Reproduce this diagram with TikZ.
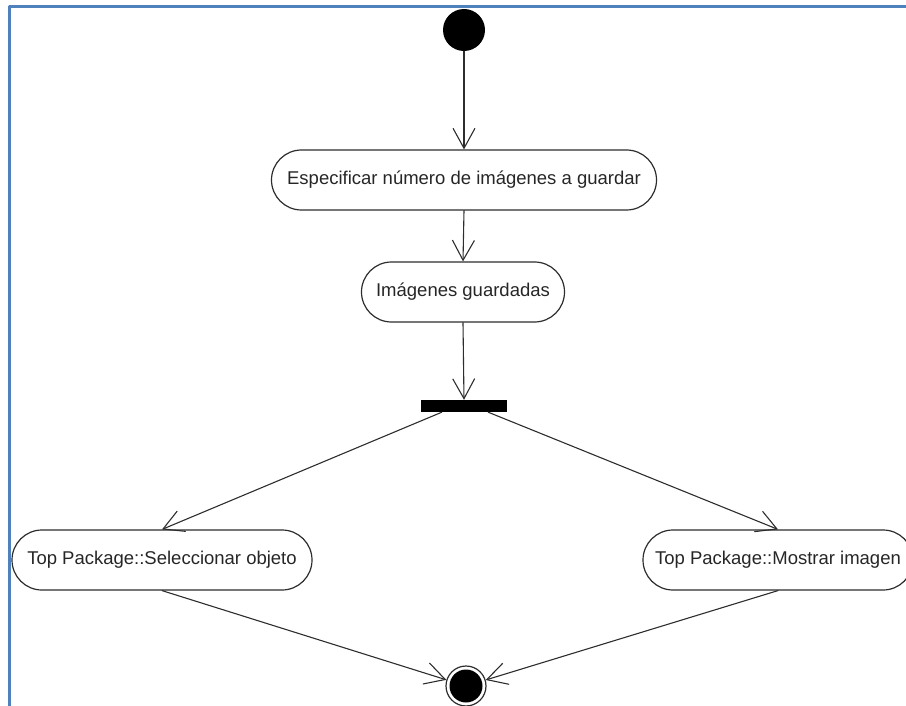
\documentclass[tikz,border=0pt]{standalone}
\usepackage{fontspec}
\setmainfont{Liberation Sans}
\usetikzlibrary{arrows.meta,shapes.misc}
\definecolor{marco}{RGB}{79,129,189}
\definecolor{trazo}{RGB}{45,45,45}
\begin{document}
\begin{tikzpicture}[x=1pt, y=-1pt, font=\fontsize{18.5}{22}\selectfont, line join=round, line cap=round, >={Straight Barb[length=20pt,width=22pt,line width=1.1pt]},
		actividad/.style={draw=trazo, rounded rectangle, minimum height=60pt, inner sep=0pt, line width=1.2pt, text=black!85},
		flujo/.style={->, line width=1.1pt, draw=trazo}]
				\useasboundingbox (0,0) rectangle (906,706);
				\draw[marco, line width=3pt, line cap=butt] (906,7)--(9,7)--(9,706);
				\node[circle, fill, minimum size=42pt, inner sep=0pt] (inicio) at (464,30) {};
				\node[actividad, minimum width=385pt] (especificar) at (464,180) {Especificar número de imágenes a guardar};
				\node[actividad, minimum width=203pt] (guardadas) at (463,292) {Imágenes guardadas};
				\node[fill, minimum width=86pt, minimum height=12pt, inner sep=0pt] (barra) at (464,406) {};
				\node[actividad, minimum width=300pt] (seleccionar) at (162,560) {Top Package::Seleccionar objeto};
				\node[actividad, minimum width=270pt] (mostrar) at (778,560) {Top Package::Mostrar imagen};
				\node[circle, draw=trazo, line width=1.2pt, minimum size=40pt, inner sep=0pt] (fin) at (466,686) {};
				\fill (fin) circle(16.5pt);
				\foreach \a/\b in {inicio/especificar, especificar.south/guardadas.north, guardadas.south/barra.north, seleccionar.south/fin, mostrar.south/fin}
				\draw[flujo] (\a) -- (\b);
				\draw[flujo] ([xshift=21pt]barra.south west) -- (seleccionar.north);
				\draw[flujo] ([xshift=-19pt]barra.south east) -- (mostrar.north);
			\end{tikzpicture}
\end{document}
